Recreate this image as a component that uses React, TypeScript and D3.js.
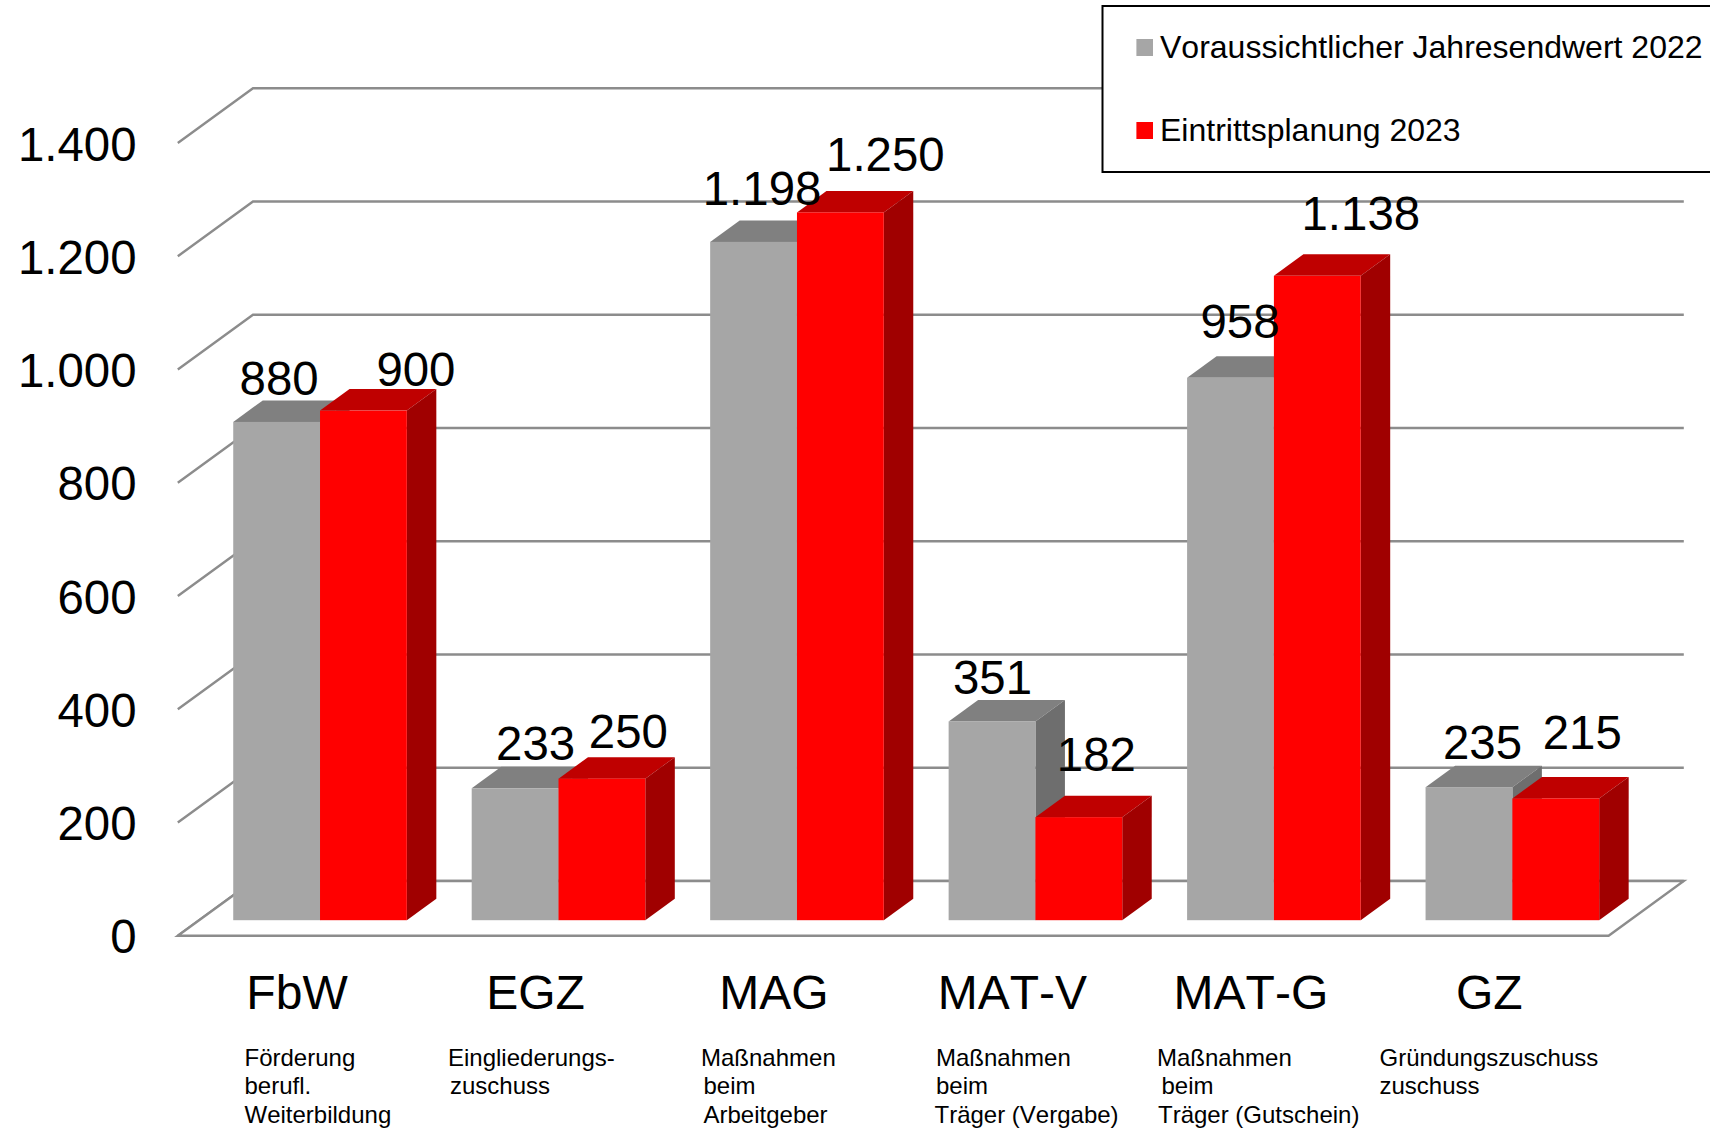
import React from "react";
import * as d3 from "d3";

const categories = ["FbW", "EGZ", "MAG", "MAT-V", "MAT-G", "GZ"];
const seriesNames = ["Voraussichtlicher Jahresendwert 2022", "Eintrittsplanung 2023"];
const values2022 = [880, 233, 1198, 351, 958, 235];
const values2023 = [900, 250, 1250, 182, 1138, 215];
const yTicks = [0, 200, 400, 600, 800, 1000, 1200, 1400];
const descriptions = [
  ["Förderung", "berufl.", "Weiterbildung"],
  ["Eingliederungs-", "zuschuss"],
  ["Maßnahmen", "beim", "Arbeitgeber"],
  ["Maßnahmen", "beim", "Träger (Vergabe)"],
  ["Maßnahmen", "beim", "Träger (Gutschein)"],
  ["Gründungszuschuss", "zuschuss"],
];

// layout tweaks, separate from the data
const descX = [
  [244.5, 244.5, 244.5],
  [448, 450],
  [701, 703.5, 703.5],
  [936, 936, 934.5],
  [1157, 1161.5, 1158],
  [1379.5, 1379.5],
];
const labelDx = [
  [2.5, 20.5, 8.5, 0.5, 9.5, 13.5],
  [52.5, 26.5, 45, 17.5, 43.5, 26.5],
];
const labelDy = [
  [-27, -28.5, -37, -27, -39.5, -28.5],
  [-24.5, -31, -41, -46, -46, -49],
];

const FONT = "'Liberation Sans', Arial, sans-serif";
const GRID = "#8c8c8c";
const colors = [
  { front: "#a6a6a6", top: "#808080", side: "#6e6e6e" },
  { front: "#ff0000", top: "#bf0000", side: "#a00000" },
];

const depthX = 75.2;
const depthY = 54.7;
const backLeft = 253;
const backRight = 1683.8;
const y = d3.scaleLinear().domain([0, 1400]).range([881, 88.3]);
const frontY = (v: number) => y(v) + depthY;

const barOffsetX = 23;
const barBaseShift = 39.2;
const barDepthX = 29.5;
const barDepthY = 21.5;
const barWidth = 86.8;

const xFront = d3.scaleBand<string>().domain(categories).range([backLeft - depthX, backRight - depthX]);
const xBar = d3.scaleBand<string>().domain(categories).range([backLeft - depthX + barOffsetX, backRight - depthX + barOffsetX]);
const bw = xBar.bandwidth();
const xSeries = d3.scaleBand<string>().domain(seriesNames).range([bw / 2 - barWidth, bw / 2 + barWidth]);

const poly = d3.line<[number, number]>().x((d) => d[0]).y((d) => d[1]);
const closed = (pts: [number, number][]) => poly(pts) + "Z";

function Bar({ cat, s, v }: { cat: string; s: number; v: number }) {
  const x0 = xBar(cat)! + xSeries(seriesNames[s])!;
  const x1 = x0 + xSeries.bandwidth();
  const yb = y(0) + barBaseShift;
  const yt = y(v) + barBaseShift;
  const c = colors[s];
  return (
    <g>
      <path d={closed([[x0, yt], [x0 + barDepthX, yt - barDepthY], [x1 + barDepthX, yt - barDepthY], [x1, yt]])} fill={c.top} />
      <path d={closed([[x1, yt], [x1 + barDepthX, yt - barDepthY], [x1 + barDepthX, yb - barDepthY], [x1, yb]])} fill={c.side} />
      <rect x={x0} y={yt} width={x1 - x0} height={yb - yt} fill={c.front} />
    </g>
  );
}

export default function App() {
  const seriesValues = [values2022, values2023];
  return (
    <svg
      width={1710}
      height={1128}
      viewBox="0 0 1710 1128"
      style={{ position: "absolute", left: 0, top: 0, background: "#fff", fontKerning: "none" }}
      fontFamily={FONT}
    >
      <rect width={1710} height={1128} fill="#fff" />
      {/* walls */}
      {yTicks.map((t) => (
        <path
          key={t}
          d={poly([[backLeft - depthX, frontY(t)], [backLeft, y(t)], [backRight, y(t)]])!}
          fill="none"
          stroke={GRID}
          strokeWidth={2.4}
        />
      ))}
      {/* floor */}
      <path
        d={closed([
          [backLeft - depthX, frontY(0)],
          [backRight - depthX, frontY(0)],
          [backRight, y(0)],
          [backLeft, y(0)],
        ])}
        fill="#fff"
        stroke={GRID}
        strokeWidth={2.4}
      />
      {/* bars */}
      {categories.map((c, i) => (
        <g key={c}>
          <Bar cat={c} s={0} v={values2022[i]} />
          <Bar cat={c} s={1} v={values2023[i]} />
        </g>
      ))}
      {/* y tick labels */}
      {yTicks.map((t) => (
        <text key={t} x={136.5} y={frontY(t) + 17.6} textAnchor="end" fontSize={47.4} fill="#000">
          {t === 0 ? "0" : d3.format(",")(t).replace(",", ".")}
        </text>
      ))}
      {/* value labels */}
      {seriesValues.map((vals, s) =>
        vals.map((v, i) => {
          const cx = xBar(categories[i])! + xSeries(seriesNames[s])! + xSeries.bandwidth() / 2;
          return (
            <text
              key={s + "-" + i}
              x={cx + labelDx[s][i]}
              y={y(v) + barBaseShift + labelDy[s][i]}
              textAnchor="middle"
              fontSize={47.4}
              fill="#000"
            >
              {d3.format(",")(v).replace(",", ".")}
            </text>
          );
        })
      )}
      {/* categories */}
      {categories.map((c) => (
        <text key={c} x={xFront(c)! + xFront.bandwidth() / 2} y={1009} textAnchor="middle" fontSize={48} fill="#000">
          {c}
        </text>
      ))}
      {descriptions.map((lines, i) =>
        lines.map((l, j) => (
          <text key={i + "-" + j} x={descX[i][j]} y={1065.5 + j * 28.6} fontSize={24} fill="#000">
            {l}
          </text>
        ))
      )}
      {/* legend */}
      <rect x={1102.5} y={6} width={620} height={166} fill="#fff" stroke="#000" strokeWidth={2} />
      {seriesNames.map((n, i) => (
        <g key={n}>
          <rect x={1136.4} y={39 + i * 83} width={16.6} height={17} fill={colors[i].front} />
          <text x={1160} y={58 + i * 83} fontSize={32} fill="#000">
            {n}
          </text>
        </g>
      ))}
    </svg>
  );
}
